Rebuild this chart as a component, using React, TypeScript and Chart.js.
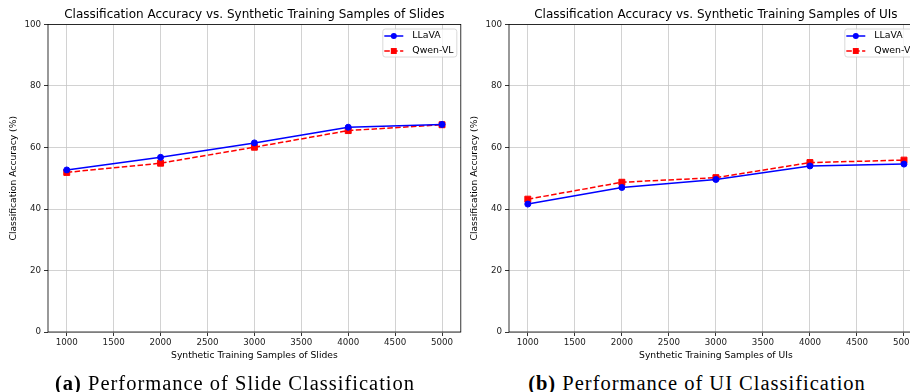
import React, { useEffect, useRef } from "react";
import { Chart, registerables } from "chart.js";

Chart.register(...registerables);

// ---------- data ----------
const sampleSizes = [1000, 2000, 3000, 4000, 5000];
const xTicks = [1000, 1500, 2000, 2500, 3000, 3500, 4000, 4500, 5000];
const yTicks = [0, 20, 40, 60, 80, 100];
const seriesNames = ["LLaVA", "Qwen-VL"];

const slidesLLaVA = [52.7, 56.8, 61.5, 66.6, 67.5];
const slidesQwen = [51.9, 54.9, 60.1, 65.5, 67.4];
const uiLLaVA = [41.6, 47.0, 49.6, 54.0, 54.6];
const uiQwen = [43.2, 48.7, 50.2, 55.1, 55.9];

const chartTitles = [
  "Classification Accuracy vs. Synthetic Training Samples of Slides",
  "Classification Accuracy vs. Synthetic Training Samples of UIs",
];
const xAxisTitles = ["Synthetic Training Samples of Slides", "Synthetic Training Samples of UIs"];
const yAxisTitle = "Classification Accuracy (%)";
const captionTags = ["(a)", "(b)"];
const captionTexts = ["Performance of Slide Classification", "Performance of UI Classification"];

const FONT = "'DejaVu Sans', sans-serif";
const CANVAS_H = 370;
const PLOT_BOTTOM = 332;
const PLOT_TOP = 24.5;
const Y_AXIS_W = 48;
const RIGHT_SLACK = 6;

const framePlugin = {
  id: "frame",
  beforeDatasetsDraw(chart: any) {
    const { ctx, chartArea } = chart;
    ctx.save();
    ctx.strokeStyle = "#000";
    ctx.lineWidth = 0.8;
    ctx.strokeRect(chartArea.left, chartArea.top, chartArea.right - chartArea.left, chartArea.bottom - chartArea.top);
    ctx.restore();
  },
};

const titlePlugin = {
  id: "axTitle",
  afterDraw(chart: any) {
    const { ctx, chartArea } = chart;
    const text = chart.options.plugins.axTitle.text;
    ctx.save();
    ctx.font = `12px ${FONT}`;
    ctx.fillStyle = "#000";
    ctx.textAlign = "center";
    ctx.textBaseline = "middle";
    ctx.fillText(text, (chartArea.left + chartArea.right) / 2, 15);
    ctx.restore();
  },
};

function drawMarker(ctx: CanvasRenderingContext2D, style: string, r: number, x: number, y: number) {
  ctx.beginPath();
  if (style === "rect") {
    const s = Math.SQRT1_2 * r;
    ctx.rect(x - s, y - s, 2 * s, 2 * s);
  } else {
    ctx.arc(x, y, r, 0, Math.PI * 2);
  }
  ctx.fill();
}

const legendPlugin = {
  id: "innerLegend",
  afterDraw(chart: any) {
    const { ctx, chartArea } = chart;
    const w = 74;
    const h = 28;
    const x = chartArea.right - 4 - w;
    const y = chartArea.top + 4.5;
    ctx.save();
    ctx.beginPath();
    const r = 2.5;
    ctx.moveTo(x + r, y);
    ctx.arcTo(x + w, y, x + w, y + h, r);
    ctx.arcTo(x + w, y + h, x, y + h, r);
    ctx.arcTo(x, y + h, x, y, r);
    ctx.arcTo(x, y, x + w, y, r);
    ctx.closePath();
    ctx.fillStyle = "rgba(255,255,255,0.8)";
    ctx.fill();
    ctx.strokeStyle = "#d0d0d0";
    ctx.lineWidth = 0.8;
    ctx.stroke();
    chart.data.datasets.forEach((ds: any, i: number) => {
      const cy = y + 7 + i * 15;
      ctx.beginPath();
      ctx.setLineDash(ds.borderDash || []);
      ctx.strokeStyle = ds.borderColor;
      ctx.lineWidth = ds.borderWidth;
      ctx.moveTo(x + 1.5, cy);
      ctx.lineTo(x + 20.5, cy);
      ctx.stroke();
      ctx.setLineDash([]);
      ctx.fillStyle = ds.pointBackgroundColor;
      drawMarker(ctx, ds.pointStyle, ds.pointRadius, x + 11, cy);
      ctx.fillStyle = "#000";
      ctx.font = `9.4px ${FONT}`;
      ctx.textAlign = "left";
      ctx.textBaseline = "middle";
      ctx.fillText(ds.label, x + 29.5, cy);
    });
    ctx.restore();
  },
};

function Panel({ idx, llava, qwen, width }: { idx: number; llava: number[]; qwen: number[]; width: number }) {
  const ref = useRef<HTMLCanvasElement | null>(null);
  useEffect(() => {
    if (!ref.current) return;
    const chart = new Chart(ref.current, {
      type: "line",
      data: {
        datasets: [
          {
            label: seriesNames[0],
            data: sampleSizes.map((x, i) => ({ x, y: llava[i] })),
            borderColor: "#0000ff",
            backgroundColor: "#0000ff",
            pointBackgroundColor: "#0000ff",
            pointBorderColor: "#0000ff",
            borderWidth: 1.5,
            pointStyle: "circle",
            pointRadius: 3,
            pointBorderWidth: 1,
            tension: 0,
          } as any,
          {
            label: seriesNames[1],
            data: sampleSizes.map((x, i) => ({ x, y: qwen[i] })),
            borderColor: "#ff0000",
            backgroundColor: "#ff0000",
            pointBackgroundColor: "#ff0000",
            pointBorderColor: "#ff0000",
            borderWidth: 1.5,
            borderDash: [5.5, 2.4],
            pointStyle: "rect",
            pointRadius: 4.2,
            pointBorderWidth: 1,
            tension: 0,
          } as any,
        ],
      },
      options: {
        responsive: false,
        animation: false,
        devicePixelRatio: 1,
        layout: { padding: { top: PLOT_TOP, left: 0, right: 0, bottom: 0 } },
        plugins: {
          legend: { display: false },
          title: { display: false },
          tooltip: { enabled: false },
          axTitle: { text: chartTitles[idx] },
        } as any,
        scales: {
          x: {
            type: "linear",
            min: 800,
            max: 5200,
            afterBuildTicks: (s: any) => {
              s.ticks = xTicks.map((v) => ({ value: v }));
            },
            afterFit: (s: any) => {
              s.height = CANVAS_H - PLOT_BOTTOM;
              s.paddingLeft = 0;
              s.paddingRight = 0;
            },
            grid: { color: "#c6c6c6", lineWidth: 0.8, drawTicks: true, tickLength: 4, tickColor: "#000", tickWidth: 0.8 },
            border: { display: false },
            ticks: {
              font: { family: FONT, size: 8.7 },
              color: "#222",
              padding: 2,
              maxRotation: 0,
              autoSkip: false,
              callback: (v: any) => String(v),
            },
            title: { display: true, text: xAxisTitles[idx], font: { family: FONT, size: 9.2 }, color: "#000", padding: { top: 0, bottom: 8.4 } },
          },
          y: {
            type: "linear",
            min: 0,
            max: 100,
            afterBuildTicks: (s: any) => {
              s.ticks = yTicks.map((v) => ({ value: v }));
            },
            afterFit: (s: any) => {
              s.width = Y_AXIS_W;
              s.paddingTop = 0;
              s.paddingBottom = 0;
            },
            grid: { color: "#c6c6c6", lineWidth: 0.8, drawTicks: true, tickLength: 4, tickColor: "#000", tickWidth: 0.8 },
            border: { display: false },
            ticks: { font: { family: FONT, size: 8.7 }, color: "#222", padding: 3, callback: (v: any) => String(v) },
            title: { display: true, text: yAxisTitle, font: { family: FONT, size: 9.2 }, color: "#000", padding: { top: 8.4, bottom: 0 } },
          },
        },
      } as any,
      plugins: [framePlugin, titlePlugin, legendPlugin],
    });
    return () => chart.destroy();
  }, []);
  return <canvas ref={ref} width={width} height={CANVAS_H} style={{ display: "block", width, height: CANVAS_H }} />;
}

export default function App() {
  const captionStyle: React.CSSProperties = {
    position: "absolute",
    top: 371.5,
    fontFamily: "'Liberation Serif', serif",
    fontSize: 20.5,
    letterSpacing: "1px",
    whiteSpace: "nowrap",
    textAlign: "center",
    lineHeight: "22px",
    color: "#000",
  };
  return (
    <div style={{ position: "absolute", left: 0, top: 0, width: 910, height: 392, overflow: "hidden", background: "#fff" }}>
      <div style={{ position: "absolute", left: 461, top: 0 }}>
        <Panel idx={1} llava={uiLLaVA} qwen={uiQwen} width={461 + RIGHT_SLACK} />
      </div>
      <div style={{ position: "absolute", left: 0, top: 0 }}>
        <Panel idx={0} llava={slidesLLaVA} qwen={slidesQwen} width={460 + RIGHT_SLACK} />
      </div>
      <div style={{ ...captionStyle, left: 35, width: 400 }}>
        <b>{captionTags[0]}</b> {captionTexts[0]}
      </div>
      <div style={{ ...captionStyle, left: 497, width: 400 }}>
        <b>{captionTags[1]}</b> {captionTexts[1]}
      </div>
    </div>
  );
}
